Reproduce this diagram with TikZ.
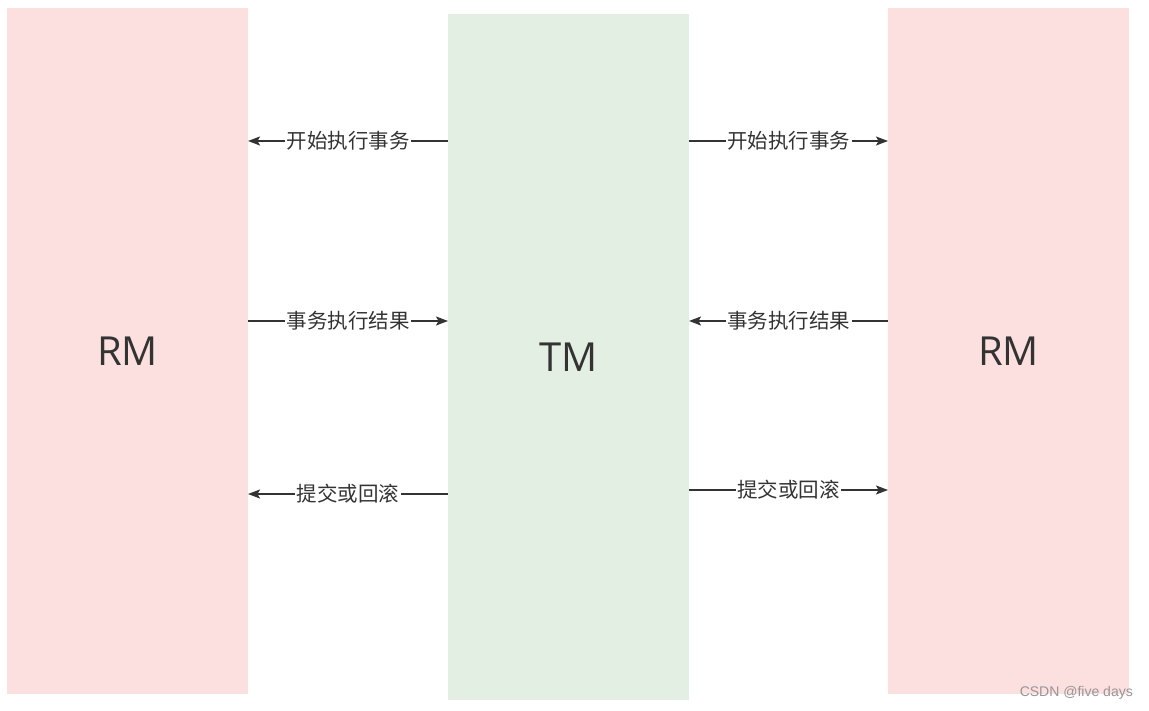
\documentclass[tikz,border=0pt]{standalone}
\usepackage{fontspec}
\setmainfont{Open Sans}
\newfontfamily\cjk{Noto Sans CJK SC}
\newfontfamily\wm{Liberation Sans}
\usetikzlibrary{arrows.meta}
\definecolor{rmpink}{RGB}{252,223,223}
\definecolor{tmgreen}{RGB}{227,239,226}
\definecolor{linegray}{RGB}{51,51,51}
\definecolor{wmgray}{RGB}{150,150,150}
\begin{document}
\begin{tikzpicture}[x=1pt,y=-1pt,
  col/.style={draw=none,inner sep=0pt,outer sep=0pt,minimum width=241pt,minimum height=686pt},
  big/.style={font=\fontsize{40}{40}\selectfont,text=linegray},
  arr/.style={draw=linegray,line width=1.4pt,-{Stealth[length=12pt,width=9pt,inset=2.5pt]}},
  lbl/.style={fill=white,inner sep=1.5pt,font=\cjk\fontsize{20.5}{20.5}\selectfont,text=linegray}]
\useasboundingbox (0,0) rectangle (1149,711);
\fill[white] (0,0) rectangle (1149,711);
\node[col,fill=rmpink,anchor=north west] (rm1) at (7,8) {};
\node[big] at (rm1.center) (rm1t) {RM};
\node[col,fill=tmgreen,anchor=north west] (tm) at (448,14) {};
\node[big] at (tm.center) (tmt) {TM};
\node[col,fill=rmpink,anchor=north west] (rm2) at (888,8) {};
\node[big] at (rm2.center) (rm2t) {RM};
% left side
\draw[arr] (tm.west |- 0,141) -- node[lbl]{开始执行事务} (rm1.east |- 0,141);
\draw[arr] (rm1.east |- 0,321) -- node[lbl]{事务执行结果} (tm.west |- 0,321);
\draw[arr] (tm.west |- 0,494) -- node[lbl]{提交或回滚} (rm1.east |- 0,494);
% right side
\draw[arr] (tm.east |- 0,141) -- node[lbl]{开始执行事务} (rm2.west |- 0,141);
\draw[arr] (rm2.west |- 0,321) -- node[lbl]{事务执行结果} (tm.east |- 0,321);
\draw[arr] (tm.east |- 0,490) -- node[lbl]{提交或回滚} (rm2.west |- 0,490);
\node[anchor=east,inner sep=0pt,font=\wm\fontsize{14}{14}\selectfont,text=wmgray] (wm) at (1133,693) {CSDN @five days};
\end{tikzpicture}
\end{document}
